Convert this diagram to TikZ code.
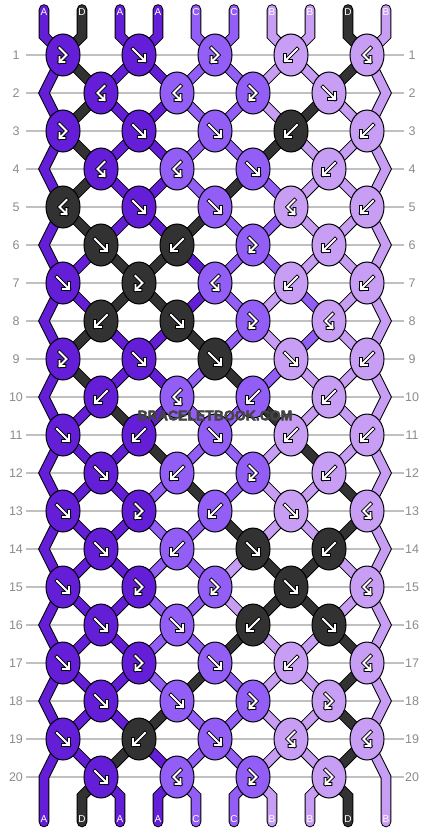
\documentclass[tikz,border=0pt]{standalone}
\usepackage{fontspec}
\setmainfont{Liberation Sans}
\usetikzlibrary{shapes.geometric}
\definecolor{cA}{RGB}{100,30,215}
\definecolor{cB}{RGB}{200,158,245}
\definecolor{cC}{RGB}{146,94,245}
\definecolor{cD}{RGB}{50,50,50}
\definecolor{gridc}{RGB}{192,192,192}
\definecolor{numc}{RGB}{140,140,140}
\definecolor{wmc}{RGB}{68,68,68}
\newcommand\glyphpath[1]{%
  \draw[black,line width=3.8pt,line join=miter,line cap=rect] #1;
  \draw[white,line width=1.8pt,line join=miter,line cap=rect] #1;}
\tikzset{
  strand/.style={draw=#1, line width=8.6pt, line cap=round, line join=miter,
    preaction={draw=black, line width=10.6pt, line cap=round, line join=miter}},
  knot/.style={ellipse, draw=black, line width=1pt, minimum width=34pt, minimum height=42pt, inner sep=0pt},
  rownum/.style={text=numc, font=\fontsize{12.5}{14}\selectfont, inner sep=0pt},
  strandlbl/.style={text=white, font=\fontsize{10}{12}\selectfont, inner sep=0pt},
  gridline/.style={draw=gridc, line width=1.3pt},
  wm/.style={font=\fontsize{14}{16}\selectfont\bfseries, inner sep=0pt},
  pics/arf/.style={code={\glyphpath{(-6,-6) -- (6,6) (0,6) -- (6,6) -- (6,0)}}},
  pics/arb/.style={code={\glyphpath{(6,-6) -- (-6,6) (0,6) -- (-6,6) -- (-6,0)}}},
  pics/arfb/.style={code={\glyphpath{(-3.5,-7) -- (3.5,0) -- (-3.5,7) (1.5,7) -- (-3.5,7) -- (-3.5,2)}}},
  pics/arbf/.style={code={\glyphpath{(3.5,-7) -- (-3.5,0) -- (3.5,7) (-1.5,7) -- (3.5,7) -- (3.5,2)}}},
}
\def\knotdata{1/{A/fb,A/f,C/fb,B/b,B/bf},2/{A/bf,C/bf,C/fb,B/f},3/{A/fb,A/f,C/f,D/b,B/b},4/{A/bf,C/bf,C/f,B/b},5/{D/bf,A/f,C/f,B/bf,B/b},6/{D/f,D/b,C/fb,B/b},7/{A/f,D/fb,C/bf,B/b,B/b},8/{D/b,D/f,C/fb,B/bf},9/{A/fb,A/f,D/f,B/f,B/b},10/{A/b,C/bf,C/b,B/b},11/{A/f,A/b,C/f,B/b,B/b},12/{A/f,C/b,C/fb,B/b},13/{A/f,A/fb,C/b,B/f,B/bf},14/{A/f,C/b,D/f,D/b},15/{A/f,A/fb,C/fb,D/f,B/bf},16/{A/f,C/f,D/b,D/f},17/{A/f,A/fb,C/f,B/b,B/bf},18/{A/f,C/f,C/fb,B/fb},19/{A/f,D/b,C/f,B/bf,B/bf},20/{A/f,C/bf,C/fb,B/fb}}
\def\statedata{0/{A,D,A,A,C,C,B,B,D,B},1/{A,D,A,A,C,C,B,B,D,B},2/{A,D,A,A,C,C,B,D,B,B},3/{A,D,A,A,C,C,D,B,B,B},4/{A,D,A,A,C,D,C,B,B,B},5/{A,D,A,A,D,C,C,B,B,B},6/{A,A,D,D,A,C,C,B,B,B},7/{A,A,D,D,A,C,B,C,B,B},8/{A,D,A,A,D,C,B,C,B,B},9/{A,D,A,A,C,D,C,B,B,B},10/{A,A,D,A,C,C,D,B,B,B},11/{A,A,A,D,C,C,B,D,B,B},12/{A,A,A,C,D,C,B,B,D,B},13/{A,A,A,C,C,D,B,B,D,B},14/{A,A,A,C,C,B,D,D,B,B},15/{A,A,A,C,C,B,D,D,B,B},16/{A,A,A,C,C,D,B,B,D,B},17/{A,A,A,C,D,C,B,B,D,B},18/{A,A,A,D,C,C,B,B,D,B},19/{A,A,D,A,C,C,B,B,D,B},20/{A,D,A,A,C,C,B,B,D,B}}
\begin{document}
\begin{tikzpicture}[x=1pt,y=-1pt]
\useasboundingbox (0,0) rectangle (430,832);
\fill[white] (0,0) rectangle (430,832);
% grid lines and row numbers
\foreach \rr in {1,...,20} {
  \pgfmathsetmacro\yy{17+38*\rr}
  \coordinate (gL-\rr) at (26,\yy);
  \coordinate (gR-\rr) at (404,\yy);
  \draw[gridline] (gL-\rr) -- (gR-\rr);
  \node[rownum] (nL-\rr) at (16,\yy) {\rr};
  \node[rownum] (nR-\rr) at (412,\yy) {\rr};
}
% coordinates
\foreach \pp in {0,...,9} {
  \pgfmathsetmacro\xp{44+38*\pp}
  \coordinate (tE-\pp) at (\xp,9.5);
  \coordinate (t-\pp) at (\xp,36);
  \coordinate (bM-\pp) at (\xp,796);
  \coordinate (bE-\pp) at (\xp,822);
}
\foreach \rr in {2,4,...,20} {
  \pgfmathsetmacro\yy{17+38*\rr}
  \coordinate (eL-\rr) at (44,\yy);
  \coordinate (eR-\rr) at (386,\yy);
}
\foreach \rr/\kl in \knotdata {
  \pgfmathtruncatemacro\odd{mod(\rr,2)}
  \pgfmathsetmacro\yy{17+38*\rr}
  \foreach \kc/\kt [count=\jj] in \kl {
    \pgfmathsetmacro\xx{\odd==1 ? 63+76*(\jj-1) : 101+76*(\jj-1)}
    \coordinate (k-\rr-\jj) at (\xx,\yy);
  }
}
% strands
\foreach \rr/\st in \statedata {
  \foreach \sc [count=\pp from 0] in \st {
    \pgfmathtruncatemacro\rn{\rr+1}
    \pgfmathtruncatemacro\rnn{\rr+2}
    \pgfmathtruncatemacro\ja{floor(\pp/2)+1}
    \pgfmathtruncatemacro\jb{floor((\pp+1)/2)}
    \pgfmathtruncatemacro\odd{mod(\rr,2)}
    \ifnum\rr=0
      \draw[strand=c\sc] (tE-\pp) -- (t-\pp) -- (k-1-\ja);
    \else
      \ifnum\rr=20
        \ifnum\pp>0 \ifnum\pp<9
          \draw[strand=c\sc] (k-20-\jb) -- (bM-\pp) -- (bE-\pp);
        \fi\fi
      \else
        \ifnum\pp>0 \ifnum\pp<9
          \ifnum\odd=1
            \draw[strand=c\sc] (k-\rr-\ja) -- (k-\rn-\jb);
          \else
            \draw[strand=c\sc] (k-\rr-\jb) -- (k-\rn-\ja);
          \fi
        \fi\fi
        \ifnum\odd=1
          \ifnum\pp=0
            \ifnum\rr=19
              \draw[strand=c\sc] (k-19-1) -- (eL-20) -- (bE-0);
            \else
              \draw[strand=c\sc] (k-\rr-1) -- (eL-\rn) -- (k-\rnn-1);
            \fi
          \fi
          \ifnum\pp=9
            \ifnum\rr=19
              \draw[strand=c\sc] (k-19-5) -- (eR-20) -- (bE-9);
            \else
              \draw[strand=c\sc] (k-\rr-5) -- (eR-\rn) -- (k-\rnn-5);
            \fi
          \fi
        \fi
      \fi
    \fi
  }
}
% strand end labels
\foreach \lt [count=\pp from 0] in {A,D,A,A,C,C,B,B,D,B} {
  \pgfmathsetmacro\xp{44+38*\pp}
  \node[strandlbl] (lt-\pp) at (\xp,12.5) {\lt};
  \node[strandlbl] (lb-\pp) at (\xp,819.5) {\lt};
}
% knots
\foreach \rr/\kl in \knotdata {
  \foreach \kc/\kt [count=\jj] in \kl {
    \node[knot, fill=c\kc] (K-\rr-\jj) at (k-\rr-\jj) {};
    \pic at (k-\rr-\jj) {ar\kt};
  }
}
% watermark
\node[wm, text=wmc] (wm) at (215,415.5) {\special{pdf:literal direct 2 Tr 0.5 w 1 j 0.27 0.27 0.27 RG}BRACELETBOOK.COM\special{pdf:literal direct 0 Tr}};
\end{tikzpicture}
\end{document}
